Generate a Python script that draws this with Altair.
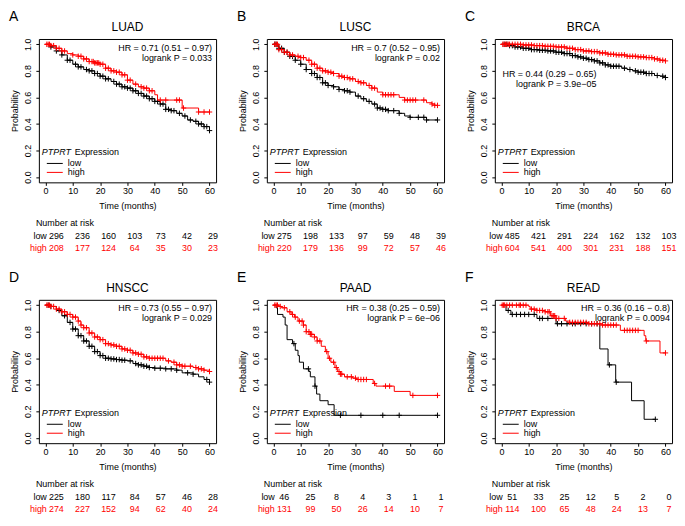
import altair as alt
import pandas as pd

FONT = "Liberation Sans"
W, H = 178, 144
RED = "#FF0000"
TIMES = [0, 10, 20, 30, 40, 50, 60]

# ---------------- LUAD ----------------
LUAD_LOW_T = [0, 2, 4, 6, 8, 10, 12, 14, 16, 18, 20, 22, 24, 26, 28, 30, 32, 34, 36, 38, 40, 42, 44, 46, 48, 50, 52, 54, 56, 58, 60]
LUAD_LOW_S = [1, 0.98, 0.95, 0.92, 0.88, 0.85, 0.83, 0.81, 0.80, 0.78, 0.76, 0.74, 0.72, 0.70, 0.68, 0.67, 0.65, 0.63, 0.61, 0.59, 0.57, 0.55, 0.51, 0.50, 0.48, 0.46, 0.43, 0.42, 0.40, 0.38, 0.35]
LUAD_HIGH_T = [0, 2, 4, 6, 8, 10, 12, 14, 16, 18, 20, 22, 24, 26, 28, 30, 32, 34, 36, 38, 40, 41, 50, 56, 60]
LUAD_HIGH_S = [1, 0.99, 0.97, 0.95, 0.93, 0.92, 0.91, 0.89, 0.87, 0.86, 0.85, 0.82, 0.80, 0.79, 0.77, 0.73, 0.70, 0.68, 0.67, 0.65, 0.62, 0.58, 0.52, 0.49, 0.49]
LUAD_LOW_CENS = [2, 4, 6, 8, 9, 11, 12, 13, 15, 16, 17, 18, 19, 20, 21, 22, 23, 25, 26, 27, 28, 29, 30, 31, 32, 33, 34, 35, 36, 37, 38, 39, 40, 41, 42, 43, 44, 45, 46, 47, 49, 51, 53, 55, 56, 57, 58, 59, 60]
LUAD_HIGH_CENS = [0.5, 1, 1.5, 2, 3, 4, 5, 6, 7, 10, 12, 13, 14, 15, 16, 17, 17.5, 18, 18.5, 19, 19.5, 20, 21, 22, 23, 24, 25, 26, 27, 28, 29, 30, 31, 33, 35, 36, 37, 38, 39, 42, 44, 48, 49, 50.5, 56, 58, 60]
LUAD_RISK_LOW = [296, 236, 160, 103, 73, 42, 29]
LUAD_RISK_HIGH = [208, 177, 124, 64, 35, 30, 23]

# ---------------- LUSC ----------------
LUSC_LOW_T = [0, 2, 4, 6, 8, 10, 12, 14, 16, 18, 20, 22, 24, 26, 28, 30, 32, 34, 36, 38, 40, 42, 46, 48, 50, 56, 60]
LUSC_LOW_S = [1, 0.97, 0.94, 0.91, 0.88, 0.85, 0.81, 0.78, 0.75, 0.71, 0.69, 0.68, 0.66, 0.65, 0.64, 0.61, 0.59, 0.57, 0.55, 0.52, 0.51, 0.50, 0.48, 0.46, 0.45, 0.43, 0.43]
LUSC_HIGH_T = [0, 2, 4, 6, 8, 10, 12, 14, 16, 18, 20, 22, 24, 26, 28, 30, 32, 34, 36, 38, 40, 46, 48, 56, 58, 59, 60]
LUSC_HIGH_S = [1, 0.96, 0.94, 0.92, 0.91, 0.90, 0.88, 0.85, 0.82, 0.80, 0.79, 0.78, 0.76, 0.75, 0.74, 0.72, 0.71, 0.69, 0.67, 0.64, 0.62, 0.60, 0.58, 0.56, 0.55, 0.54, 0.54]
LUSC_LOW_CENS = [0.5, 1, 2, 3, 4, 5, 6, 7, 8, 10, 12, 14, 15, 16, 17, 18, 19, 20, 22, 24, 26, 27, 28, 31, 33, 35, 37, 38, 39, 40, 41, 42, 44, 46, 50, 53, 55, 56, 60]
LUSC_HIGH_CENS = [0.5, 1, 1.5, 2, 3, 4, 5, 6, 7, 9, 10, 11, 13, 14, 15, 16, 17, 18, 19, 20, 21, 22, 24, 25, 26, 27, 28, 29, 31, 32, 33, 35, 36, 37, 40, 41, 42, 43, 44, 48, 49, 50, 51, 52, 55, 58, 59, 60]
LUSC_RISK_LOW = [275, 198, 133, 97, 59, 48, 39]
LUSC_RISK_HIGH = [220, 179, 136, 99, 72, 57, 46]

# ---------------- BRCA ----------------
BRCA_LOW_T = [0, 3, 5, 8, 11, 14, 17, 20, 23, 26, 28, 30, 32, 34, 36, 38, 40, 44, 46, 48, 50, 53, 56, 58, 60]
BRCA_LOW_S = [1, 0.99, 0.98, 0.97, 0.96, 0.955, 0.95, 0.94, 0.93, 0.915, 0.905, 0.895, 0.885, 0.875, 0.86, 0.845, 0.835, 0.82, 0.81, 0.80, 0.79, 0.78, 0.765, 0.76, 0.75]
BRCA_HIGH_T = [0, 8, 12, 16, 20, 24, 27, 30, 33, 36, 39, 42, 46, 50, 53, 56, 58, 60]
BRCA_HIGH_S = [1, 0.995, 0.99, 0.985, 0.98, 0.97, 0.96, 0.95, 0.945, 0.935, 0.925, 0.92, 0.91, 0.905, 0.90, 0.89, 0.88, 0.875]
BRCA_LOW_CENS = [1, 2, 3, 4, 5, 6, 7, 8, 9, 10, 11, 12, 13, 14, 15, 16, 17, 18, 19, 20, 21, 22, 23, 24, 25, 26, 27, 28, 29, 30, 31, 32, 33, 34, 35, 36, 37, 38, 39, 40, 41, 42, 43, 45, 47, 49, 50, 51, 52, 53, 54, 55, 57, 59, 60]
BRCA_HIGH_CENS = [0.5, 1, 1.5, 2, 2.5, 3, 4, 5, 6, 7, 8, 9, 10, 11, 12, 13, 14, 15, 16, 17, 18, 19, 20, 21, 22, 23, 24, 25, 26, 27, 28, 29, 30, 31, 32, 33, 34, 35, 36, 37, 38, 39, 40, 41, 42, 43, 44, 45, 46, 47, 48, 49, 50, 51, 52, 53, 54, 55, 56, 57, 58, 59, 60]
BRCA_RISK_LOW = [485, 421, 291, 224, 162, 132, 103]
BRCA_RISK_HIGH = [604, 541, 400, 301, 231, 188, 151]

# ---------------- HNSCC ----------------
HNSCC_LOW_T = [0, 2, 4, 6, 8, 10, 12, 14, 16, 18, 20, 22, 24, 26, 28, 30, 32, 34, 36, 38, 40, 44, 48, 50, 54, 56, 58, 60]
HNSCC_LOW_S = [1, 0.99, 0.96, 0.92, 0.87, 0.82, 0.77, 0.73, 0.69, 0.65, 0.62, 0.60, 0.595, 0.59, 0.585, 0.58, 0.56, 0.55, 0.54, 0.53, 0.525, 0.52, 0.51, 0.49, 0.48, 0.46, 0.44, 0.42]
HNSCC_HIGH_T = [0, 2, 4, 6, 8, 10, 12, 13, 14, 16, 18, 20, 22, 24, 26, 28, 30, 32, 34, 36, 38, 44, 46, 48, 50, 54, 56, 58, 60]
HNSCC_HIGH_S = [1, 0.99, 0.97, 0.95, 0.93, 0.91, 0.88, 0.85, 0.83, 0.79, 0.76, 0.74, 0.71, 0.70, 0.69, 0.67, 0.66, 0.64, 0.63, 0.61, 0.60, 0.58, 0.57, 0.55, 0.54, 0.53, 0.52, 0.51, 0.50]
HNSCC_LOW_CENS = [1, 2, 5, 7, 9, 10, 11, 12, 13, 14, 15, 16, 17, 18, 19, 20, 21, 22, 23, 24, 25, 26, 27, 28, 29, 31, 33, 34, 35, 36, 37, 38, 40, 42, 44, 46, 48, 52, 54, 59, 60]
HNSCC_HIGH_CENS = [0.5, 1, 1.5, 2, 3, 4, 5, 6, 7, 8, 9, 10, 11, 12, 13, 14, 15, 16, 17, 18, 19, 20, 21, 22, 23, 24, 25, 26, 27, 28, 29, 30, 31, 32, 33, 34, 35, 36, 37, 38, 39, 40, 41, 42, 43, 45, 47, 48, 49, 50, 51, 53, 55, 56, 57, 58, 60]
HNSCC_RISK_LOW = [225, 180, 117, 84, 57, 46, 28]
HNSCC_RISK_HIGH = [274, 227, 152, 94, 62, 40, 24]

# ---------------- PAAD ----------------
PAAD_LOW_T = [0, 1, 1.5, 3.5, 4.3, 5, 7, 8, 9, 9.5, 11, 13, 13.5, 15.2, 15.8, 17, 20, 22.2, 60]
PAAD_LOW_S = [1, 0.98, 0.93, 0.91, 0.85, 0.74, 0.71, 0.66, 0.62, 0.57, 0.52, 0.50, 0.46, 0.39, 0.33, 0.28, 0.25, 0.17, 0.17]
PAAD_HIGH_T = [0, 2, 3, 5, 6.5, 7.7, 9, 11, 12, 13.5, 15, 16, 17.5, 19, 20, 21, 22.5, 23.5, 24.5, 26, 29, 30.5, 36.5, 37.5, 44.2, 50, 60]
PAAD_HIGH_S = [1, 0.99, 0.98, 0.95, 0.93, 0.91, 0.88, 0.85, 0.80, 0.78, 0.76, 0.73, 0.69, 0.65, 0.60, 0.57, 0.53, 0.50, 0.48, 0.46, 0.45, 0.44, 0.41, 0.39, 0.35, 0.32, 0.32]
PAAD_LOW_CENS = [7.5, 12.8, 15.2, 24.5, 32, 40, 46, 60]
PAAD_HIGH_CENS = [0.5, 1, 1.5, 2.5, 4, 6, 7, 8, 9.5, 10.5, 11, 12, 13, 13.5, 14, 15, 16, 17, 19.5, 20.5, 22, 23, 24, 24.5, 25, 27, 28.5, 30, 31, 32, 33, 34, 37, 41, 42.5, 51, 60]
PAAD_RISK_LOW = [46, 25, 8, 4, 3, 1, 1]
PAAD_RISK_HIGH = [131, 99, 50, 26, 14, 10, 7]

# ---------------- READ ----------------
READ_LOW_T = [0, 1.7, 3.5, 13, 20, 36, 39, 41.8, 47.6, 52.2, 56.3]
READ_LOW_S = [1, 0.96, 0.93, 0.90, 0.86, 0.67, 0.55, 0.42, 0.28, 0.14, 0.14]
READ_HIGH_T = [0, 10, 10.5, 13, 16, 18, 20, 23.5, 25, 32, 36.5, 43.5, 52.2, 52.8, 58, 60]
READ_HIGH_S = [1, 0.99, 0.97, 0.96, 0.95, 0.92, 0.90, 0.88, 0.87, 0.86, 0.85, 0.81, 0.77, 0.73, 0.64, 0.64]
READ_LOW_CENS = [2.5, 4, 5.5, 7, 8.5, 10, 12, 14, 15, 17, 20.5, 22, 24, 26, 27, 29, 31, 33, 35, 39.5, 42, 56.3]
READ_HIGH_CENS = [0.3, 0.8, 1.2, 2, 3, 4, 5.5, 6.5, 7, 8, 9, 11, 12, 13, 14, 15, 16, 17, 17.5, 18.5, 19, 19.5, 20, 21, 23, 25, 26, 27, 28, 29, 30, 31, 32, 33, 34, 35, 36, 37, 38, 39, 40, 41, 42, 45, 46, 47, 48, 49, 50, 53, 60]
READ_RISK_LOW = [51, 33, 25, 12, 5, 2, 0]
READ_RISK_HIGH = [114, 100, 65, 48, 24, 13, 7]

HR_TEXT = {
    "LUAD": ("HR = 0.71 (0.51 \u2212 0.97)", "logrank P = 0.033"),
    "LUSC": ("HR = 0.7 (0.52 \u2212 0.95)", "logrank P = 0.02"),
    "BRCA": ("HR = 0.44 (0.29 \u2212 0.65)", "logrank P = 3.9e\u221205"),
    "HNSCC": ("HR = 0.73 (0.55 \u2212 0.97)", "logrank P = 0.029"),
    "PAAD": ("HR = 0.38 (0.25 \u2212 0.59)", "logrank P = 6e\u221206"),
    "READ": ("HR = 0.36 (0.16 \u2212 0.8)", "logrank P = 0.0094"),
}

XSCALE = alt.Scale(domain=[-2.4, 62.4], nice=False, zero=False)
YSCALE = alt.Scale(domain=[-0.04, 1.04], nice=False, zero=False)
XAX = alt.Axis(values=TIMES, title="Time (months)", labelPadding=1, titlePadding=6,
               labelFlush=False, tickSize=3)
YAX = alt.Axis(values=[0, 0.2, 0.4, 0.6, 0.8, 1.0], format=".1f", title="Probability",
               labelAngle=270, labelAlign="center", labelBaseline="bottom",
               labelPadding=3, titlePadding=4, labelFlush=False, tickSize=3)
PLUS = "M-1,0L1,0M0,-1L0,1"


def surv_at(ts, ss, t):
    v = ss[0]
    for a, b in zip(ts, ss):
        if a <= t:
            v = b
    return v


def xy():
    return dict(x=alt.X("t:Q", scale=XSCALE, axis=XAX), y=alt.Y("s:Q", scale=YSCALE, axis=YAX))


def line_layer(ts, ss, color):
    return alt.Chart(pd.DataFrame({"t": ts, "s": ss})).mark_line(
        interpolate="step-after", strokeWidth=1, color=color).encode(**xy())


def cens_layer(ts, ss, cens, color):
    df = pd.DataFrame({"t": cens, "s": [surv_at(ts, ss, c) for c in cens]})
    return alt.Chart(df).mark_point(shape=PLUS, size=30, filled=False, strokeWidth=1,
                                    color=color, opacity=1).encode(**xy())


def text_layer(s, px, py, size=9, align="left", color="black", style="normal"):
    return alt.Chart(pd.DataFrame({"txt": [s]})).mark_text(
        font=FONT, fontSize=size, align=align, baseline="middle", color=color,
        fontStyle=style).encode(text="txt:N", x=alt.value(px), y=alt.value(py))


def rule_layer(x1, x2, py, color):
    return alt.Chart(pd.DataFrame({"a": [0]})).mark_rule(color=color, strokeWidth=1).encode(
        x=alt.value(x1), x2=alt.value(x2), y=alt.value(py))


def risk_layer(vals, py, color):
    df = pd.DataFrame({"t": TIMES, "n": [str(v) for v in vals]})
    return alt.Chart(df).transform_calculate(t="4 + 0.955 * datum.t").mark_text(
        font=FONT, fontSize=9, align="center", baseline="middle", color=color).encode(
        x=alt.X("t:Q", scale=XSCALE, axis=XAX), y=alt.value(py), text="n:N")


def panel(letter, name, lo_t, lo_s, hi_t, hi_s, lo_c, hi_c, r_lo, r_hi, hr_x, hr_y):
    hr, pv = HR_TEXT[name]
    layers = [
        line_layer(lo_t, lo_s, "black"),
        cens_layer(lo_t, lo_s, lo_c, "black"),
        line_layer(hi_t, hi_s, RED),
        cens_layer(hi_t, hi_s, hi_c, RED),
        text_layer(letter, -30, -22, size=14),
        text_layer(name, W / 2, -12, size=12, align="center"),
        text_layer(hr, hr_x, hr_y, align="right"),
        text_layer(pv, hr_x, hr_y + 10, align="right"),
        text_layer("PTPRT", 3, H - 30, style="italic"),
        text_layer("Expression", 36, H - 30),
        rule_layer(8, 24, H - 19, "black"),
        rule_layer(8, 24, H - 10, RED),
        text_layer("low", 29, H - 19),
        text_layer("high", 29, H - 10),
        text_layer("Number at risk", -3, H + 41),
        text_layer("low", 8, H + 54, align="right"),
        text_layer("high", 8, H + 66, align="right", color=RED),
        risk_layer(r_lo, H + 54, "black"),
        risk_layer(r_hi, H + 66, RED),
    ]
    return alt.layer(*layers).properties(width=W, height=H)


pA = panel("A", "LUAD", LUAD_LOW_T, LUAD_LOW_S, LUAD_HIGH_T, LUAD_HIGH_S,
           LUAD_LOW_CENS, LUAD_HIGH_CENS, LUAD_RISK_LOW, LUAD_RISK_HIGH, W - 4, 9)
pB = panel("B", "LUSC", LUSC_LOW_T, LUSC_LOW_S, LUSC_HIGH_T, LUSC_HIGH_S,
           LUSC_LOW_CENS, LUSC_HIGH_CENS, LUSC_RISK_LOW, LUSC_RISK_HIGH, W - 4, 9)
pC = panel("C", "BRCA", BRCA_LOW_T, BRCA_LOW_S, BRCA_HIGH_T, BRCA_HIGH_S,
           BRCA_LOW_CENS, BRCA_HIGH_CENS, BRCA_RISK_LOW, BRCA_RISK_HIGH, 102, 35)
pD = panel("D", "HNSCC", HNSCC_LOW_T, HNSCC_LOW_S, HNSCC_HIGH_T, HNSCC_HIGH_S,
           HNSCC_LOW_CENS, HNSCC_HIGH_CENS, HNSCC_RISK_LOW, HNSCC_RISK_HIGH, W - 4, 8)
pE = panel("E", "PAAD", PAAD_LOW_T, PAAD_LOW_S, PAAD_HIGH_T, PAAD_HIGH_S,
           PAAD_LOW_CENS, PAAD_HIGH_CENS, PAAD_RISK_LOW, PAAD_RISK_HIGH, W - 4, 8)
pF = panel("F", "READ", READ_LOW_T, READ_LOW_S, READ_HIGH_T, READ_HIGH_S,
           READ_LOW_CENS, READ_HIGH_CENS, READ_RISK_LOW, READ_RISK_HIGH, W - 2, 8)

chart = alt.concat(pA, pB, pC, pD, pE, pF, columns=3, spacing={"row": 16, "column": 17}).properties(
    padding=0
).configure_view(stroke="black", strokeWidth=1).configure_axis(
    labelFont=FONT, titleFont=FONT, labelFontSize=9, titleFontSize=9, titleFontWeight="normal",
    domain=False, grid=False, tickColor="black", labelColor="black", titleColor="black"
)

chart.save("out.html", embed_options={"renderer": "svg", "actions": False})
